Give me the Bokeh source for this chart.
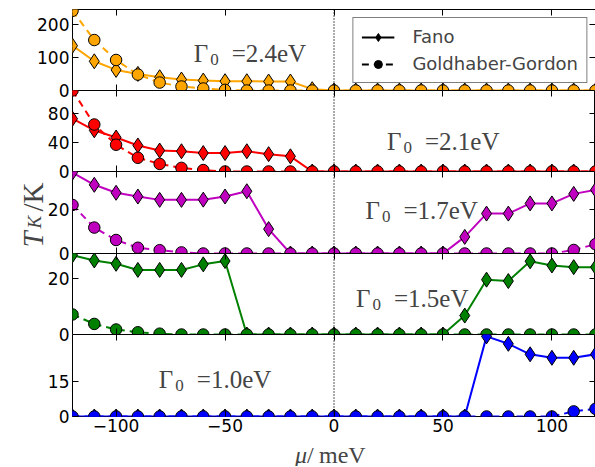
import math
from bokeh.plotting import figure
from bokeh.models import (ColumnDataSource, Range1d, FixedTicker, LinearAxis, Span,
                          Label, Legend, LegendItem)
from bokeh.layouts import column, row
from bokeh.embed import file_html
from bokeh.resources import INLINE

# ---------------- data ----------------
mu = [-120, -110, -100, -90, -80, -70, -60, -50, -40, -30, -20, -10, 0,
      10, 20, 30, 40, 50, 60, 70, 80, 90, 100, 110, 120]

gamma_labels = ["2.4", "2.1", "1.7", "1.5", "1.0"]

fano_24 = [135, 88, 62, 50, 40, 33, 30, 28, 28, 27, 27, 4, 0,
           0, 0, 0, 0, 0, 0, 0, 0, 0, 0, 0, 0]
gg_24 = [240, 152, 92, 48, 24, 12, 6, 2, 0, 0, 0, 0, 0,
         0, 0, 0, 0, 0, 0, 0, 0, 0, 0, 0, 0]

fano_21 = [73, 57, 47, 36, 29, 28, 25.5, 25.5, 28, 24, 21, 0, 0,
           0, 0, 0, 0, 0, 0, 0, 0, 0, 0, 0, 0]
gg_21 = [112, 65, 37, 19, 10.5, 5, 2, 0, 0, 0, 0, 0, 0,
         0, 0, 0, 0, 0, 0, 0, 0, 0, 0, 0, 0]

fano_17 = [36.5, 31, 27.4, 25.7, 24.2, 24.2, 24.3, 25.7, 28.1, 11, 0, 0, 0,
           0, 0, 0, 0, 0, 7.5, 18, 18, 22.6, 22.6, 26.9, 28.7]
gg_17 = [21.9, 11.7, 6.1, 2.6, 1.5, 0.5, 0, 0, 0, 0, 0, 0, 0,
         0, 0, 0, 0, 0, 0, 0, 0, 0, 0, 1.6, 4.2]

fano_15 = [28.5, 26.6, 25.4, 23.2, 23.2, 23.2, 25.2, 26.4, 0, 0, 0, 0, 0,
           0, 0, 0, 0, 0, 6.8, 19.7, 19.2, 26.3, 24.8, 24.2, 24.2]
gg_15 = [7.2, 3.8, 1.8, 0.8, 0.3, 0, 0, 0, 0, 0, 0, 0, 0,
         0, 0, 0, 0, 0, 0, 0, 0, 0, 0, 0, 0]

fano_10 = [0, 0, 0, 0, 0, 0, 0, 0, 0, 0, 0, 0, 0,
           0, 0, 0, 0, 0, 0, 34.4, 31.2, 26.7, 25.2, 25.2, 26.7]
gg_10 = [0, 0, 0, 0, 0, 0, 0, 0, 0, 0, 0, 0, 0,
         0, 0, 0, 0, 0, 0, 0, 0, 0, 0, 2.2, 3.3]

fano_series = [fano_24, fano_21, fano_17, fano_15, fano_10]
gg_series = [gg_24, gg_21, gg_17, gg_15, gg_10]

y_max = [244, 112, 37, 29.1, 35.2]
y_ticks = [[0, 100, 200], [0, 40, 80], [0, 20], [0, 20], [0, 15]]
x_ticks = [-100, -50, 0, 50, 100]
x_tick_labels = {-100: "\u2212100", -50: "\u221250", 0: "0", 50: "50", 100: "100"}

# ---------------- styling / layout ----------------
colors = ["#FFA500", "#FF0000", "#BF00BF", "#008000", "#0000FF"]
frame_heights = [81, 81, 82, 81, 82]
label_anchor = [(-64.4, 110.7), (24.3, 41.4), (14.4, 19.6), (10.1, 12.8), (-80.4, 15.7)]
xlabel_pos = [-17.9, -12.4, -6.9]     # mu-positions of the x-label pieces
OVER = 20
YLAB_W = 70
COL_SHIFT = 36
COL_X = YLAB_W - COL_SHIFT          # page x where the panel column starts
SERIF = "Liberation Serif"
SANS = "DejaVu Sans"
nan = float("nan")

x_range = Range1d(-120, 120)
figs = []


def style_axis(ax, ticks, show_labels):
    ax.ticker = FixedTicker(ticks=ticks)
    ax.axis_line_color = None
    ax.major_tick_in = 6
    ax.major_tick_out = 0
    ax.major_tick_line_color = "black"
    ax.major_tick_line_width = 1
    ax.minor_tick_line_color = None
    if show_labels:
        ax.major_label_text_font = SANS
        ax.major_label_text_font_size = "17px"
        ax.major_label_text_color = "black"
    else:
        ax.major_label_text_font_size = "0px"
        ax.major_label_text_color = None
        ax.major_label_standoff = 0


for i in range(5):
    last = i == 4
    top_b = 9 if i == 0 else 10
    bot_b = 24 if last else 10
    p = figure(frame_width=523, frame_height=frame_heights[i],
               x_range=x_range, y_range=Range1d(0, y_max[i]),
               output_backend="svg", toolbar_location=None, title=None,
               min_border_left=70 - COL_X, min_border_right=2,
               min_border_top=top_b, min_border_bottom=bot_b)
    p.border_fill_alpha = 0
    p.background_fill_color = "white"
    p.outline_line_color = "black"
    p.outline_line_alpha = 1
    p.outline_line_width = 1
    p.xgrid.visible = False
    p.ygrid.visible = False
    if i > 0:
        p.styles = {"margin-top": f"-{OVER}px"}

    # axes
    style_axis(p.xaxis[0], x_ticks, last)
    if last:
        p.xaxis[0].major_label_overrides = x_tick_labels
        p.xaxis[0].major_label_standoff = 2
    style_axis(p.yaxis[0], y_ticks[i], True)
    p.yaxis[0].major_label_standoff = 3
    top_ax = LinearAxis()
    style_axis(top_ax, x_ticks, False)
    p.add_layout(top_ax, "above")
    right_ax = LinearAxis()
    style_axis(right_ax, y_ticks[i], False)
    p.add_layout(right_ax, "right")

    # dotted line at mu = 0
    p.add_layout(Span(location=0, dimension="height", line_color="black",
                      line_width=1.3, line_dash="1 2"))

    src = ColumnDataSource(dict(mu=mu, fano=fano_series[i], gg=gg_series[i]))
    c = colors[i]
    p.line("mu", "fano", source=src, line_color=c, line_width=2)
    p.scatter("mu", "fano", source=src, marker="diamond", size=15,
              fill_color=c, line_color="black", line_width=1)
    p.line("mu", "gg", source=src, line_color=c, line_width=2, line_dash="7 5")
    p.scatter("mu", "gg", source=src, marker="circle", size=11.5,
              fill_color=c, line_color="black", line_width=1)

    # Gamma_0 label
    ax_, ay_ = label_anchor[i]
    p.add_layout(Label(x=ax_, y=ay_, text="\u0393", text_font=SERIF,
                       text_font_size="25px", text_baseline="alphabetic"))
    p.add_layout(Label(x=ax_, y=ay_, x_offset=16.5, y_offset=-6, text="0",
                       text_font=SERIF, text_font_size="17px",
                       text_baseline="alphabetic"))
    p.add_layout(Label(x=ax_, y=ay_, x_offset=38, text="=" + gamma_labels[i] + "eV",
                       text_font=SERIF, text_font_size="25px",
                       text_baseline="alphabetic"))
    figs.append(p)

# legend on top panel (black legend-only glyphs, no visible data)
p0 = figs[0]
leg_src = ColumnDataSource(dict(x=[nan], y=[nan]))
r_fl = p0.line("x", "y", source=leg_src, line_color="black", line_width=2)
r_fm = p0.scatter("x", "y", source=leg_src, marker="diamond", size=9,
                  fill_color="black", line_color="black")
r_gl = p0.line("x", "y", source=leg_src, line_color="black", line_width=2, line_dash="7 5")
r_gm = p0.scatter("x", "y", source=leg_src, marker="circle", size=7,
                  fill_color="black", line_color="black")
legend = Legend(items=[LegendItem(label="Fano", renderers=[r_fl, r_fm]),
                       LegendItem(label="Goldhaber-Gordon", renderers=[r_gl, r_gm])],
                location="top_right", margin=8, padding=8, spacing=6,
                glyph_width=33, glyph_height=20, label_height=20, label_standoff=18,
                label_text_font=SANS, label_text_font_size="18px",
                border_line_color="black", border_line_width=1,
                background_fill_color="white", background_fill_alpha=1)
p0.add_layout(legend)


def bare(f):
    f.xgrid.visible = False
    f.ygrid.visible = False
    f.outline_line_color = None
    f.border_fill_alpha = 0
    f.background_fill_alpha = 0
    return f


# y label strip (T_K /K): data units equal page pixels (y downwards)
total_h = 9 + sum(frame_heights) + 24 + 26
ylab = bare(figure(frame_width=YLAB_W, frame_height=total_h,
                   x_range=Range1d(0, YLAB_W), y_range=Range1d(total_h, 0),
                   output_backend="svg", toolbar_location=None, title=None,
                   x_axis_location=None, y_axis_location=None,
                   min_border_left=0, min_border_right=0,
                   min_border_top=0, min_border_bottom=0))
half_pi = math.pi / 2
ylab.add_layout(Label(x=32, y=247, angle=half_pi, text="T", text_font=SERIF,
                      text_font_style="italic", text_font_size="29px",
                      text_baseline="alphabetic"))
ylab.add_layout(Label(x=34, y=228, angle=half_pi, text="K", text_font=SERIF,
                      text_font_style="italic", text_font_size="19px",
                      text_baseline="alphabetic"))
ylab.add_layout(Label(x=32, y=211, angle=half_pi, text="/K", text_font=SERIF,
                      text_font_size="29px", text_baseline="alphabetic"))

# x label strip (mu/meV): same horizontal geometry as the panels
xlab = bare(figure(frame_width=523, frame_height=26,
                   x_range=x_range, y_range=Range1d(466, 440),
                   output_backend="svg", toolbar_location=None, title=None,
                   x_axis_location=None, y_axis_location=None,
                   min_border_left=70 - COL_X, min_border_right=2,
                   min_border_top=0, min_border_bottom=0))
xlab.add_layout(Label(x=xlabel_pos[0], y=454, text="\u03bc", text_font=SERIF,
                      text_font_style="italic", text_font_size="24px",
                      text_baseline="alphabetic"))
xlab.add_layout(Label(x=xlabel_pos[1], y=454, text="/", text_font=SERIF,
                      text_font_size="24px", text_baseline="alphabetic"))
xlab.add_layout(Label(x=xlabel_pos[2], y=454, text="meV", text_font=SERIF,
                      text_font_size="24px", text_baseline="alphabetic"))

panels = column(*figs, xlab, spacing=0, styles={"margin-left": f"-{COL_SHIFT}px"})
layout = row(ylab, panels, spacing=0)
open("out.html", "w").write(file_html(layout, INLINE))
